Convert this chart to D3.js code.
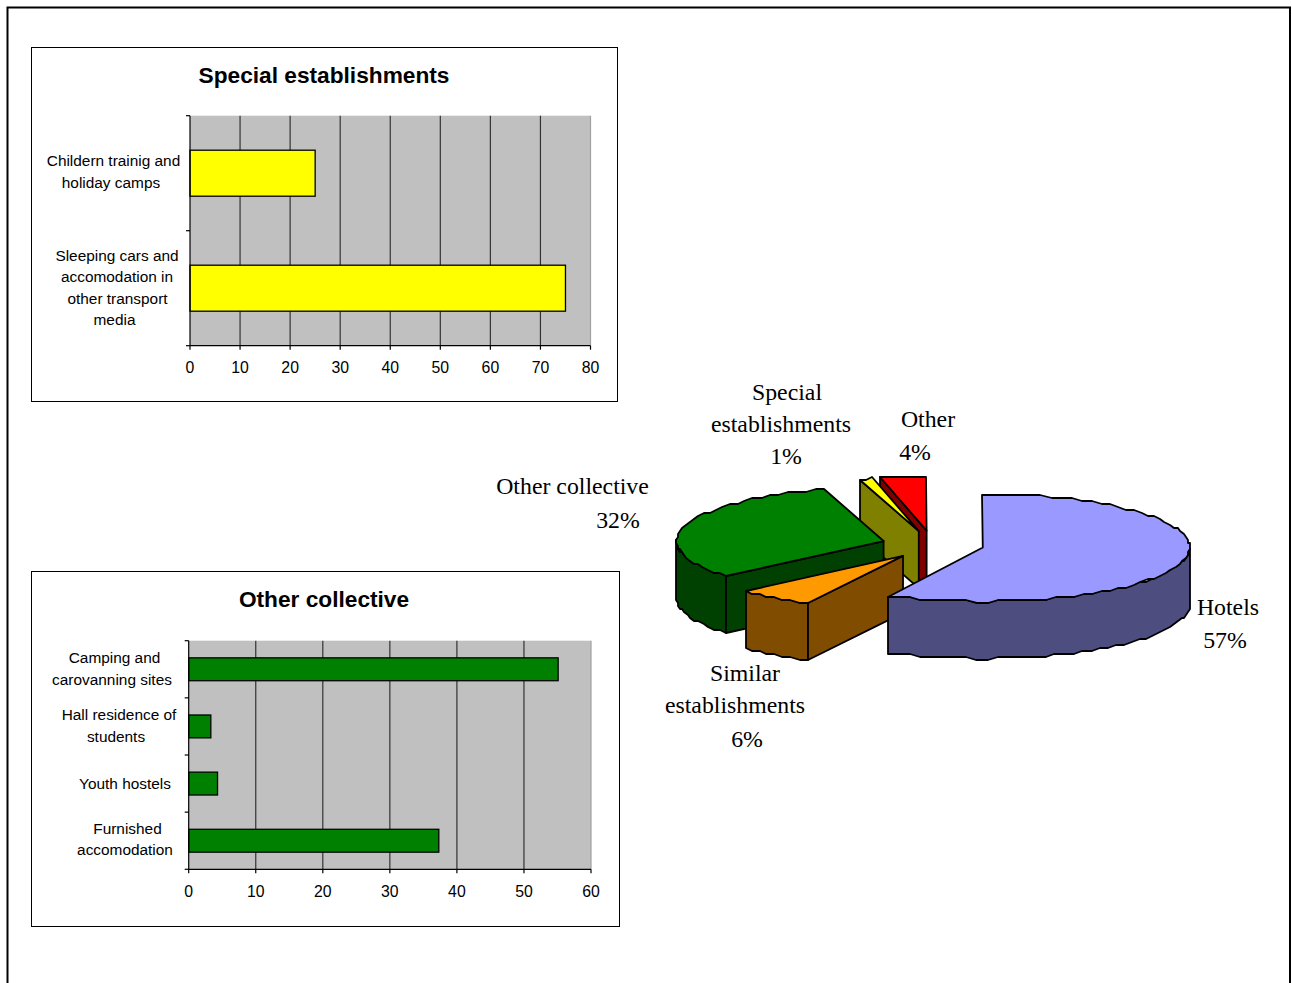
<!DOCTYPE html>
<html>
<head>
<meta charset="utf-8">
<script src="https://cdnjs.cloudflare.com/ajax/libs/d3/7.8.5/d3.min.js"></script>
<style>
  html, body { margin: 0; padding: 0; background: #fff; overflow: hidden; }
  svg { display: block; }
  .sans { font-family: "Liberation Sans", Arial, sans-serif; fill: #000; }
  .serif { font-family: "Liberation Serif", "Times New Roman", serif; fill: #000; }
</style>
</head>
<body>
<script>
// special establishments bar chart
var specialCategories = ['Childern trainig and holiday camps', 'Sleeping cars and accomodation in other transport media'];
var specialValues = [25, 75];
var specialTicks = [0, 10, 20, 30, 40, 50, 60, 70, 80];
var specialLines = [['Childern trainig and', 'holiday camps'], ['Sleeping cars and', 'accomodation in', 'other transport', 'media']];

// other collective bar chart
var collectiveCategories = ['Camping and carovanning sites', 'Hall residence of students', 'Youth hostels', 'Furnished accomodation'];
var collectiveValues = [55.1, 3.3, 4.3, 37.3];
var collectiveTicks = [0, 10, 20, 30, 40, 50, 60];
var collectiveLines = [['Camping and', 'carovanning sites'], ['Hall residence of', 'students'], ['Youth hostels'], ['Furnished', 'accomodation']];

// pie, clockwise from 12 o'clock
var pieNames = ['Hotels', 'Similar establishments', 'Other collective', 'Special establishments', 'Other'];
var pieValues = [57, 6, 32, 1, 4];
var pieTop = ['#9999ff', '#ff9900', '#008000', '#ffff00', '#ff0000'];
var pieSide = ['#4d4d80', '#804d00', '#004000', '#808000', '#800000'];

// hand placed label lines: [centre x, baseline y]
var specialPlaces = [[113.5, 166], [111, 188], [117, 261], [117, 282], [117.5, 304], [114.5, 325]];
var collectivePlaces = [[114.5, 663], [112, 685], [119, 720], [116, 742], [125, 789], [127.5, 834], [125, 855]];
var pieLabels = [
  ['Special', 787, 400], ['establishments', 781, 432], ['1%', 786, 464],
  ['Other', 928, 427], ['4%', 915, 460],
  ['Other collective', 572.5, 494], ['32%', 618, 528],
  ['Hotels', 1228, 615], ['57%', 1225, 648],
  ['Similar', 745, 681], ['establishments', 735, 713], ['6%', 747, 747]
];

var width = 1292, height = 983;

var svg = d3.select('body').append('svg')
  .attr('xmlns', 'http://www.w3.org/2000/svg')
  .attr('width', width)
  .attr('height', height);

// page frame runs off the bottom
svg.append('path')
  .attr('d', 'M7.5,990V7.5H1290V990')
  .attr('fill', 'none')
  .attr('stroke', '#000')
  .attr('stroke-width', 2);

function barChart(o) {
  var g = svg.append('g');

  g.append('rect')
    .attr('x', o.frame[0] + 0.5).attr('y', o.frame[1] + 0.5)
    .attr('width', o.frame[2] - o.frame[0]).attr('height', o.frame[3] - o.frame[1])
    .attr('fill', '#fff').attr('stroke', '#000');

  g.append('text').attr('class', 'sans')
    .attr('x', o.titleX).attr('y', o.titleY)
    .attr('text-anchor', 'middle')
    .attr('font-size', 22.7).attr('font-weight', 'bold')
    .text(o.title);

  var x = d3.scaleLinear().domain([0, o.ticks[o.ticks.length - 1]]).range([o.plot[0], o.plot[2]]);
  var y = d3.scaleBand().domain(o.categories).range([o.plot[1], o.plot[3]])
    .paddingInner(o.gap).paddingOuter(o.gap / 2);
  var edges = d3.scaleLinear().domain([0, o.categories.length]).range([o.plot[1], o.plot[3]]);

  g.append('rect')
    .attr('x', o.plot[0]).attr('y', o.plot[1])
    .attr('width', o.plot[2] - o.plot[0]).attr('height', o.plot[3] - o.plot[1])
    .attr('fill', '#c0c0c0');

  g.selectAll('.grid').data(o.ticks.slice(1)).enter().append('line')
    .attr('class', 'grid')
    .attr('x1', x).attr('x2', x)
    .attr('y1', o.plot[1]).attr('y2', o.plot[3])
    .attr('stroke-width', 1.2)
    .attr('stroke', function (d, i) { return i === o.ticks.length - 2 ? '#a0a0a0' : '#333'; });

  g.selectAll('.bar').data(o.values).enter().append('rect')
    .attr('class', 'bar')
    .attr('x', o.plot[0])
    .attr('y', function (d, i) { return y(o.categories[i]); })
    .attr('width', function (d) { return x(d) - o.plot[0]; })
    .attr('height', y.bandwidth())
    .attr('fill', o.colour).attr('stroke', '#000').attr('stroke-width', 1.3);

  var bottom = g.append('g')
    .attr('transform', 'translate(0,' + o.plot[3] + ')')
    .call(d3.axisBottom(x).offset(0).tickValues(o.ticks).tickSize(4).tickSizeOuter(0));
  bottom.selectAll('text').attr('class', 'sans').attr('dy', 0).attr('y', o.tickY - o.plot[3])
    .attr('font-size', 15.8).attr('fill', '#000');

  g.append('g')
    .attr('transform', 'translate(' + o.plot[0] + ',0)')
    .call(d3.axisLeft(edges).offset(0).tickValues(d3.range(o.categories.length + 1)).tickFormat('').tickSize(4).tickSizeOuter(0));

  g.selectAll('path.domain, .tick line').attr('stroke', '#000').attr('stroke-width', 1.2);

  var flat = d3.merge(o.lines);
  g.selectAll('.cat').data(flat).enter().append('text')
    .attr('class', 'sans cat')
    .attr('x', function (d, i) { return o.places[i][0]; })
    .attr('y', function (d, i) { return o.places[i][1]; })
    .attr('text-anchor', 'middle')
    .attr('font-size', 15.4)
    .text(function (d) { return d; });
}

barChart({
  title: 'Special establishments', titleX: 324, titleY: 83,
  frame: [31, 47, 617, 401], plot: [190, 115.7, 590.5, 345.7], tickY: 373.3,
  categories: specialCategories, values: specialValues, ticks: specialTicks,
  lines: specialLines, places: specialPlaces, colour: '#ffff00', gap: 0.6
});

barChart({
  title: 'Other collective', titleX: 324, titleY: 607,
  frame: [31, 571, 619, 926], plot: [188.7, 640.7, 591, 869.3], tickY: 897.3,
  categories: collectiveCategories, values: collectiveValues, ticks: collectiveTicks,
  lines: collectiveLines, places: collectivePlaces, colour: '#008000', gap: 0.6
});

// 3d pie
var cx = 933, cy = 544.5, rx = 207, ry = 54, depth = 57, explodeX = 51, explodeY = 14;
var skew = 2.5 * Math.PI / 180;

var slices = d3.pie().sort(null).value(function (d) { return d; })(pieValues);

// rim position, angles pulled a little by the perspective, snapped to a coarse
// grid which gives the edge its scalloped look
function rimPoint(o, a) {
  var w = a + skew * Math.abs(Math.sin(2 * a));
  return [Math.round((o[0] + rx * Math.sin(w)) / 2) * 2, Math.round((o[1] - ry * Math.cos(w)) / 3) * 3];
}

function arcPoints(o, a0, a1) {
  var n = Math.max(2, Math.ceil((a1 - a0) / (3 * Math.PI / 180)));
  return d3.range(n + 1).map(function (i) { return rimPoint(o, a0 + (a1 - a0) * i / n); });
}

function down(p) { return [p[0], p[1] + depth]; }

var line = d3.line();
var pieG = svg.append('g').attr('stroke', '#000').attr('stroke-width', 1.8).attr('stroke-linejoin', 'round');

function face(points, fill) {
  pieG.append('path').attr('d', line(points) + 'Z').attr('fill', fill);
}

// painted back to front so nearer slices overlap
[4, 3, 2, 1, 0].forEach(function (i) {
  var d = slices[i];
  var mid = (d.startAngle + d.endAngle) / 2;
  var apex = [cx + explodeX * Math.sin(mid), cy - explodeY * Math.cos(mid)];

  var rimFrom = Math.max(d.startAngle, Math.PI / 2), rimTo = Math.min(d.endAngle, 3 * Math.PI / 2);
  if (rimTo > rimFrom) {
    var pts = arcPoints(apex, rimFrom, rimTo);
    face(pts.concat(pts.slice().reverse().map(down)), pieSide[i]);
  }

  // cut faces, only those turned to the viewer
  if (d.startAngle > Math.PI) {
    var s = rimPoint(apex, d.startAngle);
    face([apex, s, down(s), down(apex)], pieSide[i]);
  }
  if (d.endAngle < Math.PI) {
    var e = rimPoint(apex, d.endAngle);
    face([apex, e, down(e), down(apex)], pieSide[i]);
  }

  face([apex].concat(arcPoints(apex, d.startAngle, d.endAngle)), pieTop[i]);
});

svg.selectAll('.pie-label').data(pieLabels).enter().append('text')
  .attr('class', 'serif pie-label')
  .attr('x', function (d) { return d[1]; })
  .attr('y', function (d) { return d[2]; })
  .attr('text-anchor', 'middle')
  .attr('font-size', 23.8)
  .text(function (d) { return d[0]; });
</script>
</body>
</html>
